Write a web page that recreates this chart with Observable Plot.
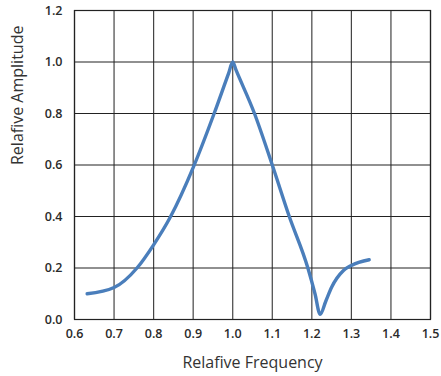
<!DOCTYPE html>
<html>
<head>
<meta charset="utf-8">
<script src="https://cdn.jsdelivr.net/npm/d3@7"></script>
<script src="https://cdn.jsdelivr.net/npm/@observablehq/plot@0.6"></script>
<style>
  body { margin: 0; background: #fff; }
  #chart { width: 441px; height: 376px; }
</style>
</head>
<body>
<div id="chart"></div>
<script>
const freq = [0.632, 0.7, 0.758, 0.8, 0.843, 0.9, 0.953, 0.99, 1.0, 1.008, 1.055, 1.1, 1.143, 1.19, 1.208, 1.221, 1.235, 1.25, 1.28, 1.3, 1.345];
const amp  = [0.10, 0.124, 0.20, 0.29, 0.40, 0.59, 0.80, 0.958, 1.0, 0.97, 0.80, 0.60, 0.40, 0.20, 0.10, 0.02, 0.07, 0.125, 0.19, 0.21, 0.232];
const xTicks = [0.6, 0.7, 0.8, 0.9, 1.0, 1.1, 1.2, 1.3, 1.4, 1.5];
const yTicks = [0.0, 0.2, 0.4, 0.6, 0.8, 1.0, 1.2];

const data = freq.map((f, i) => ({f, a: amp[i]}));

const chart = Plot.plot({
  width: 441,
  height: 376,
  marginLeft: 74,
  marginRight: 11,
  marginTop: 10,
  marginBottom: 57,
  style: {fontFamily: "'Open Sans', sans-serif", fontSize: "13px", color: "#333", background: "#fff"},
  x: {domain: [0.6, 1.5], ticks: xTicks, tickFormat: d3.format(".1f"), label: null},
  y: {domain: [0, 1.2], ticks: yTicks, tickFormat: d3.format(".1f"), label: null},
  marks: [
    Plot.gridX(xTicks, {stroke: "#444", strokeOpacity: 1, strokeWidth: 1.2}),
    Plot.gridY(yTicks, {stroke: "#222", strokeOpacity: 1, strokeWidth: 1.2}),
    Plot.frame({stroke: "#222", strokeWidth: 1.2}),
    Plot.axisX(xTicks, {tickSize: 0, tickPadding: 10, tickFormat: d3.format(".1f"), fontSize: 12.5, fontWeight: "600", fill: "#2a2a2a", label: null}),
    Plot.axisY(yTicks, {tickSize: 0, tickPadding: 12, tickFormat: d3.format(".1f"), fontSize: 12.5, fontWeight: "600", fill: "#2a2a2a", label: null}),
    Plot.line(data, {x: "f", y: "a", curve: "monotone-x", stroke: "#4a7ebb", strokeWidth: 3.4}),
    Plot.text(["Relafive Frequency"], {frameAnchor: "bottom", dy: 48, fontSize: 16, fill: "#333"}),
    Plot.text(["Relafive Amplitude"], {frameAnchor: "left", dx: -57, rotate: -90, fontSize: 16, fill: "#333"})
  ]
});
document.getElementById("chart").appendChild(chart);
</script>
</body>
</html>
